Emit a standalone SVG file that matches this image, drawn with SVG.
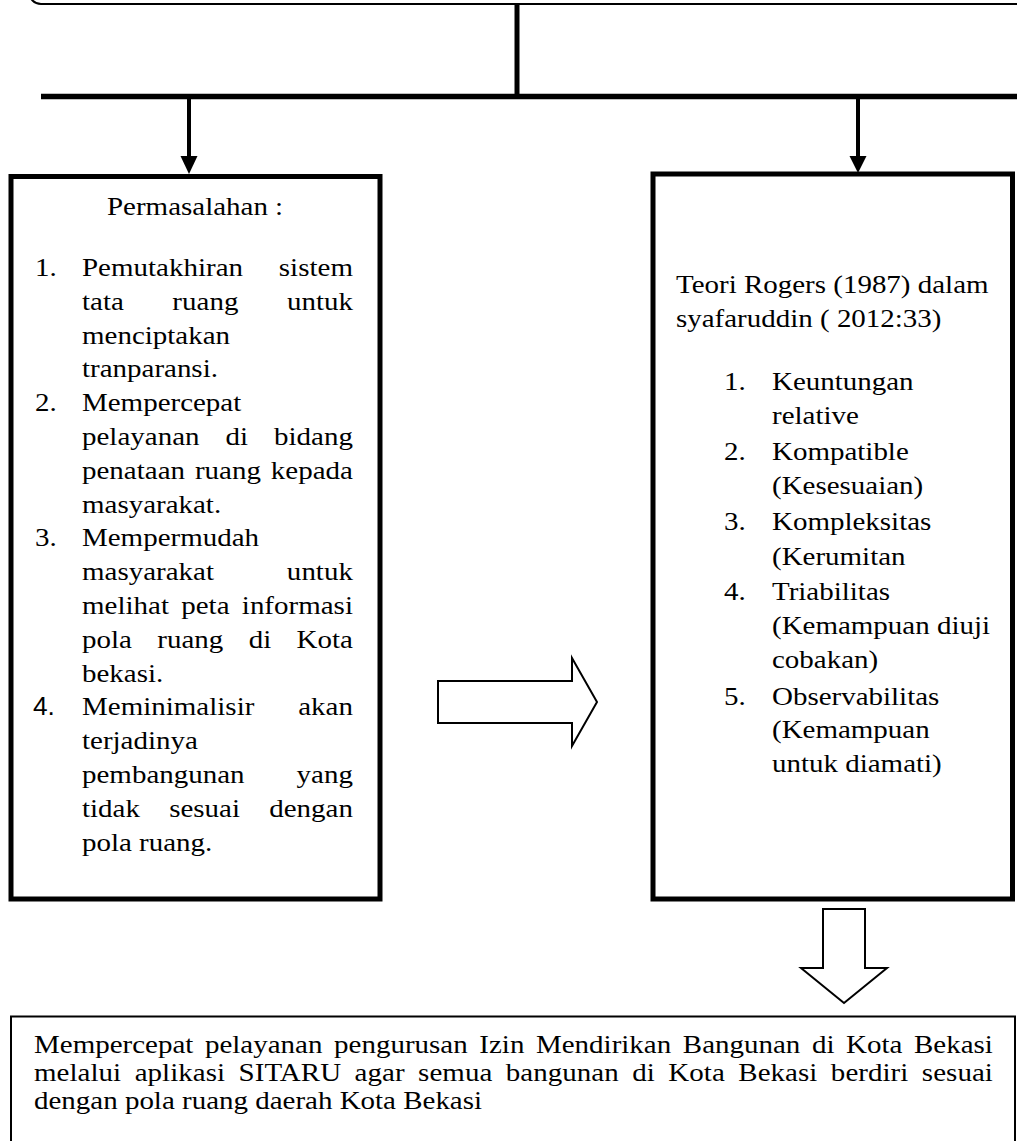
<svg xmlns="http://www.w3.org/2000/svg" width="1017" height="1141" viewBox="0 0 1017 1141">
<style>
.t{font-family:"Liberation Serif","Times New Roman",serif;font-size:26px;fill:#000}
.s{font-family:"Liberation Sans",Arial,sans-serif;font-size:25px;fill:#000}
.box{fill:#fff;stroke:#000;stroke-width:5}
.thin{fill:#fff;stroke:#000;stroke-width:2}
.bar{stroke:#000;fill:none}
.hollow{fill:#fff;stroke:#000;stroke-width:2;stroke-linejoin:miter}
</style>
<rect width="1017" height="1141" fill="#fff"/>

<g id="top-box">
<rect class="thin" x="29" y="-60" width="1060" height="64" rx="12"/>
</g>

<g id="connectors">
<line class="bar" x1="517" y1="3" x2="517" y2="97" stroke-width="5"/>
<line class="bar" x1="41" y1="96.5" x2="1017" y2="96.5" stroke-width="5.5"/>
<line class="bar" x1="189" y1="97" x2="189" y2="158" stroke-width="4"/>
<polygon points="180.5,156 197.5,156 189,174" fill="#000"/>
<line class="bar" x1="858" y1="97" x2="858" y2="158" stroke-width="4"/>
<polygon points="849.5,156 866.5,156 858,173" fill="#000"/>
<polygon class="hollow" points="438,681 572,681 572,658 597,702 572,746 572,723 438,723"/>
<polygon class="hollow" points="823,909 865,909 865,968 887,968 844,1003 801,968 823,968"/>
</g>

<g id="permasalahan">
<rect class="box" x="11" y="176.5" width="369" height="722.5"/>
<text class="t" transform="translate(107 215) scale(1.115 1)">Permasalahan :</text>
<text class="t" transform="translate(35 276) scale(1.115 1)">1.</text>
<text class="t" transform="translate(82 276) scale(1.115 1)" style="word-spacing:25.6px" textLength="243" lengthAdjust="spacing">Pemutakhiran sistem</text>
<text class="t" transform="translate(82 309.8) scale(1.115 1)" style="word-spacing:37px" textLength="243" lengthAdjust="spacing">tata ruang untuk</text>
<text class="t" transform="translate(82 343.6) scale(1.115 1)">menciptakan</text>
<text class="t" transform="translate(82 377.4) scale(1.115 1)">tranparansi.</text>
<text class="t" transform="translate(35 411.2) scale(1.115 1)">2.</text>
<text class="t" transform="translate(82 411.2) scale(1.115 1)">Mempercepat</text>
<text class="t" transform="translate(82 445) scale(1.115 1)" style="word-spacing:16.8px" textLength="243" lengthAdjust="spacing">pelayanan di bidang</text>
<text class="t" transform="translate(82 478.8) scale(1.115 1)" style="word-spacing:2.4px" textLength="243" lengthAdjust="spacing">penataan ruang kepada</text>
<text class="t" transform="translate(82 512.6) scale(1.115 1)">masyarakat.</text>
<text class="t" transform="translate(35 546.4) scale(1.115 1)">3.</text>
<text class="t" transform="translate(82 546.4) scale(1.115 1)">Mempermudah</text>
<text class="t" transform="translate(82 580.2) scale(1.115 1)" style="word-spacing:58.8px" textLength="243" lengthAdjust="spacing">masyarakat untuk</text>
<text class="t" transform="translate(82 614) scale(1.115 1)" style="word-spacing:4.5px" textLength="243" lengthAdjust="spacing">melihat peta informasi</text>
<text class="t" transform="translate(82 647.8) scale(1.115 1)" style="word-spacing:16.2px" textLength="243" lengthAdjust="spacing">pola ruang di Kota</text>
<text class="t" transform="translate(82 681.6) scale(1.115 1)">bekasi.</text>
<text class="s" transform="translate(33 715.4) scale(1.05 1)">4.</text>
<text class="t" transform="translate(82 715.4) scale(1.115 1)" style="word-spacing:32.8px" textLength="243" lengthAdjust="spacing">Meminimalisir akan</text>
<text class="t" transform="translate(82 749.2) scale(1.115 1)">terjadinya</text>
<text class="t" transform="translate(82 783) scale(1.115 1)" style="word-spacing:40.1px" textLength="243" lengthAdjust="spacing">pembangunan yang</text>
<text class="t" transform="translate(82 816.8) scale(1.115 1)" style="word-spacing:19.7px" textLength="243" lengthAdjust="spacing">tidak sesuai dengan</text>
<text class="t" transform="translate(82 850.6) scale(1.115 1)">pola ruang.</text>
</g>

<g id="teori-rogers">
<rect class="box" x="653" y="174" width="359.5" height="725"/>
<text class="t" transform="translate(676 293) scale(1.115 1)">Teori Rogers (1987) dalam</text>
<text class="t" transform="translate(676 327) scale(1.115 1)">syafaruddin ( 2012:33)</text>
<text class="t" transform="translate(724 390) scale(1.115 1)">1.</text>
<text class="t" transform="translate(772 390) scale(1.115 1)">Keuntungan</text>
<text class="t" transform="translate(772 423.5) scale(1.115 1)">relative</text>
<text class="t" transform="translate(724 460) scale(1.115 1)">2.</text>
<text class="t" transform="translate(772 460) scale(1.115 1)">Kompatible</text>
<text class="t" transform="translate(772 493.5) scale(1.115 1)">(Kesesuaian)</text>
<text class="t" transform="translate(724 530) scale(1.115 1)">3.</text>
<text class="t" transform="translate(772 530) scale(1.115 1)">Kompleksitas</text>
<text class="t" transform="translate(772 564.5) scale(1.115 1)">(Kerumitan</text>
<text class="t" transform="translate(724 600) scale(1.115 1)">4.</text>
<text class="t" transform="translate(772 600) scale(1.115 1)">Triabilitas</text>
<text class="t" transform="translate(772 634) scale(1.115 1)">(Kemampuan diuji</text>
<text class="t" transform="translate(772 668) scale(1.115 1)">cobakan)</text>
<text class="t" transform="translate(724 704.5) scale(1.115 1)">5.</text>
<text class="t" transform="translate(772 704.5) scale(1.115 1)">Observabilitas</text>
<text class="t" transform="translate(772 738) scale(1.115 1)">(Kemampuan</text>
<text class="t" transform="translate(772 772) scale(1.115 1)">untuk diamati)</text>
</g>

<g id="kesimpulan">
<rect class="thin" x="11" y="1016.5" width="1004" height="200"/>
<text class="t" transform="translate(34 1052.7) scale(1.115 1)" style="word-spacing:3.86px" textLength="860" lengthAdjust="spacing">Mempercepat pelayanan pengurusan Izin Mendirikan Bangunan di Kota Bekasi</text>
<text class="t" transform="translate(34 1081) scale(1.115 1)" style="word-spacing:5.53px" textLength="860" lengthAdjust="spacing">melalui aplikasi SITARU agar semua bangunan di Kota Bekasi berdiri sesuai</text>
<text class="t" transform="translate(34 1109.3) scale(1.115 1)">dengan pola ruang daerah Kota Bekasi</text>
</g>
</svg>
